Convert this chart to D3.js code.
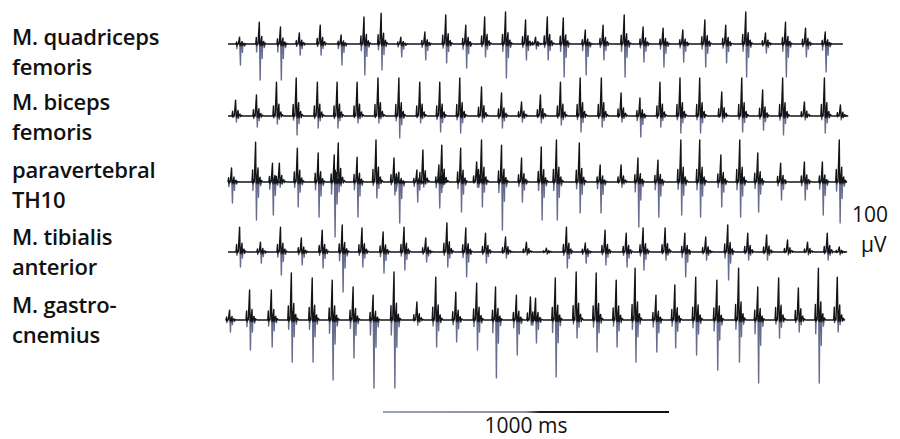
<!DOCTYPE html>
<html>
<head>
<meta charset="utf-8">
<script src="https://cdn.jsdelivr.net/npm/d3@7"></script>
<style>
  html, body { margin: 0; padding: 0; background: #fff; }
  svg { display: block; }
  .lbl { font-family: "Open Sans", "Noto Sans", sans-serif; font-weight: 600; font-size: 22px; fill: #111; letter-spacing: -0.2px; }
  .unit { font-family: "Open Sans", "Noto Sans", sans-serif; font-weight: 400; font-size: 21px; fill: #111; }
</style>
</head>
<body>
<svg id="chart" width="900" height="439"></svg>
<script>
// Muscle channels (label lines)
const channels = ["quad", "biceps", "para", "tibialis", "gastro"];
const channelLabels = [
  ["M. quadriceps", "femoris"],
  ["M. biceps", "femoris"],
  ["paravertebral", "TH10"],
  ["M. tibialis", "anterior"],
  ["M. gastro-", "cnemius"]
];

// Burst times (ms) and peak deflections (µV, up / down) per channel
const quadTimes = [42,111,185,251,324,397,477,537,606,690,763,833,899,972,1042,1077,1118,1174,1251,1313,1387,1453,1523,1592,1669,1742,1812,1881,1951,2021,2090];
const quadUp    = [23,73,57,37,63,30,90,103,23,40,97,63,90,107,80,23,90,87,47,63,97,57,53,47,80,63,107,37,73,53,40];
const quadDown  = [70,120,120,37,37,70,103,87,43,53,63,80,43,113,53,17,53,110,103,53,110,60,77,60,77,63,110,30,110,43,93];

const bicepsTimes = [28,101,171,240,314,383,453,526,599,672,742,812,888,958,1028,1094,1164,1233,1307,1376,1442,1512,1582,1651,1728,1798,1871,1941,2017,2087,2143];
const bicepsUp    = [53,70,113,127,113,113,113,127,127,113,113,127,97,77,47,70,113,127,127,77,60,113,127,127,80,127,87,127,47,127,37];
const bicepsDown  = [20,37,27,63,40,40,23,23,73,23,53,57,20,40,20,23,30,53,37,20,70,37,57,57,20,53,47,63,13,57,13];

const paraTimes = [14,98,157,181,244,317,373,387,453,519,582,599,662,683,739,749,815,871,888,958,1028,1097,1150,1230,1303,1376,1435,1505,1585,1651,1725,1791,1854,1934,2017,2080,2139];
const paraUp    = [47,133,63,63,113,97,90,130,83,140,80,33,40,107,57,123,113,67,140,123,80,117,140,130,57,57,80,73,140,140,90,140,97,63,67,67,140];
const paraDown  = [70,127,110,17,83,117,183,33,117,53,43,137,67,17,87,17,100,17,83,160,67,127,127,103,103,17,150,117,110,117,83,117,100,60,60,110,137];

const tibTimes = [42,115,185,258,331,401,470,544,617,693,767,833,902,972,1045,1115,1185,1251,1320,1394,1453,1530,1599,1672,1749,1819,1885,1958,2028,2097,2139];
const tibUp    = [83,33,83,47,73,90,80,67,83,47,97,80,63,50,33,13,83,30,73,63,80,80,63,50,90,63,57,40,33,63,17];
const tibDown  = [50,37,77,43,53,133,50,70,60,33,50,83,37,20,10,7,53,37,43,50,60,27,83,27,93,27,27,10,10,27,10];

const gastroTimes = [7,77,153,223,296,366,439,509,582,662,728,798,871,937,1010,1059,1077,1146,1219,1289,1359,1425,1498,1564,1637,1711,1787,1854,1927,1996,2066,2132];
const gastroUp    = [33,100,100,157,140,133,110,83,160,60,143,93,123,110,83,77,73,140,160,157,133,173,83,117,143,133,173,110,140,107,173,143];
const gastroDown  = [40,100,90,140,140,200,127,227,227,17,90,73,100,193,117,17,77,190,60,107,90,140,107,93,117,167,140,210,60,40,210,40];

// Scale-bar labels
const timeBarLabel = "1000 ms";
const timeBarMs = 1000;
const ampLabel = ["100", "µV"];

const series = [
  { times: quadTimes, up: quadUp, down: quadDown },
  { times: bicepsTimes, up: bicepsUp, down: bicepsDown },
  { times: paraTimes, up: paraUp, down: paraDown },
  { times: tibTimes, up: tibUp, down: tibDown },
  { times: gastroTimes, up: gastroUp, down: gastroDown }
];

const svg = d3.select("#chart");

// Scales
const x = d3.scaleLinear().domain([0, 2168]).range([228, 848]);
const baseY = d3.scaleOrdinal().domain(channels).range([44, 116, 182, 252, 320]);
const amp = d3.scaleLinear().domain([0, 100]).range([0, 30]);

// Polyphasic burst shape: [offset ms, sign * fraction of peak]
// A thin main spike with a smaller fore-potential and after-potential.
const burstShape = [
  [-14, 0], [-12, 0.3], [-11, -0.22], [-9, 0.05], [-6, 0],
  [-1.5, 1.0], [1.5, -1.0], [3.5, 0.05],
  [7, 0.35], [8.5, -0.4], [10, 0.05], [14, 0.12], [16, -0.1], [19, 0.04], [24, 0]
];

function burstPoints(t, up, down) {
  return burstShape.map(([dt, f]) => [t + dt, f >= 0 ? f * up : f * down]);
}

const line = d3.line()
  .x(d => x(d[0]))
  .y(d => d[2] - amp(d[1]));

const defs = svg.append("defs");

series.forEach((s, i) => {
  const by = baseY(channels[i]);
  const gid = "trace-grad-" + i;
  const g = defs.append("linearGradient")
    .attr("id", gid)
    .attr("gradientUnits", "userSpaceOnUse")
    .attr("x1", 0).attr("x2", 0)
    .attr("y1", by - 1).attr("y2", by + 3);
  g.append("stop").attr("offset", 0).attr("stop-color", "#141418");
  g.append("stop").attr("offset", 0.45).attr("stop-color", "#141418");
  g.append("stop").attr("offset", 1).attr("stop-color", "#666c8e");

  let pts = [[0, 0]];
  s.times.forEach((t, k) => {
    pts = pts.concat(burstPoints(t, s.up[k], s.down[k]));
  });
  pts.push([2150, 0]);
  pts = pts.map(p => [p[0], p[1], by]);

  svg.append("path")
    .attr("d", line(pts))
    .attr("fill", "none")
    .attr("stroke", `url(#${gid})`)
    .attr("stroke-width", 1.4)
    .attr("stroke-linejoin", "round");
});

// Channel labels
const labelLines = [[45, 75], [110, 140], [178, 208], [245, 275], [313, 343]];
channelLabels.forEach((lines, i) => {
  lines.forEach((txt, j) => {
    svg.append("text")
      .attr("class", "lbl")
      .attr("x", 12)
      .attr("y", labelLines[i][j])
      .text(txt);
  });
});

// Amplitude label
svg.append("text").attr("class", "unit").attr("x", 852).attr("y", 222).text(ampLabel[0]);
svg.append("text").attr("class", "unit").attr("x", 861).attr("y", 252).text(ampLabel[1]);

// Time scale bar
const barStart = 542;
const barGrad = defs.append("linearGradient")
  .attr("id", "bar-grad")
  .attr("gradientUnits", "userSpaceOnUse")
  .attr("x1", x(barStart)).attr("x2", x(barStart + timeBarMs))
  .attr("y1", 0).attr("y2", 0);
barGrad.append("stop").attr("offset", 0).attr("stop-color", "#9aa3b5");
barGrad.append("stop").attr("offset", 0.5).attr("stop-color", "#8c8ca8");
barGrad.append("stop").attr("offset", 0.55).attr("stop-color", "#1a1a1a");
barGrad.append("stop").attr("offset", 1).attr("stop-color", "#111");

svg.append("line")
  .attr("x1", x(barStart)).attr("x2", x(barStart + timeBarMs))
  .attr("y1", 412).attr("y2", 412)
  .attr("stroke", "url(#bar-grad)")
  .attr("stroke-width", 1.8);

svg.append("text")
  .attr("class", "unit")
  .attr("x", x(barStart + timeBarMs / 2))
  .attr("y", 433)
  .attr("font-size", "22px")
  .attr("text-anchor", "middle")
  .text(timeBarLabel);
</script>
</body>
</html>
